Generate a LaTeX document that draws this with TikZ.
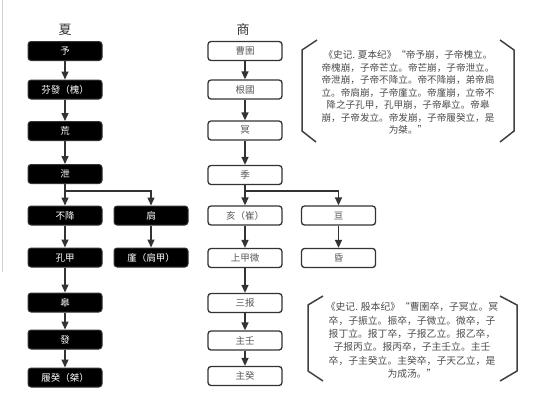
\documentclass[tikz,border=0pt]{standalone}
\usepackage{fontspec}
\newfontfamily\cjk{Noto Sans CJK SC}
\usetikzlibrary{arrows.meta}
\begin{document}
\begin{tikzpicture}[x=1pt,y=-1pt,
  xbox/.style={rectangle,rounded corners=3pt,fill=black,draw=black!80,line width=1pt,
    minimum width=74pt,minimum height=19pt,inner sep=0pt,text=white,
    font=\cjk\fontsize{9.5}{11}\selectfont},
  sbox/.style={rectangle,rounded corners=3pt,fill=white,draw=black!80,line width=1.3pt,
    minimum width=74pt,minimum height=19pt,inner sep=0pt,text=black!65,
    font=\cjk\fontsize{9.5}{11}\selectfont},
  arr/.style={draw=black!80,line width=1.4pt,-{Triangle[width=7pt,length=8pt]}},
  brk/.style={draw=black!75,line width=1.5pt},
  note/.style={text=black!70,align=center,inner sep=0pt},
  title/.style={text=black!80,font=\cjk\fontsize{13}{14}\selectfont,inner sep=0pt}]
\useasboundingbox (0,0) rectangle (534,400);
\fill[white] (0,0) rectangle (534,400);
\draw[black!18,line width=0.8pt] (2,0) -- (2,272);

% titles
\node[title] (tx) at (65,30) {夏};
\node[title] (ts) at (243,30) {商};

% Xia column
\node[xbox] (x1) at (65,51) {予};
\node[xbox] (x2) at (65,89.5) {芬發（槐）};
\node[xbox] (x3) at (65,131) {荒};
\node[xbox] (x4) at (65,174) {泄};
\node[xbox] (x5) at (65,215.5) {不降};
\node[xbox] (x6) at (151,215.5) {扃};
\node[xbox] (x7) at (65,257.5) {孔甲};
\node[xbox] (x8) at (151,257.5) {廑（扃甲）};
\node[xbox] (x9) at (65,302.5) {皋};
\node[xbox] (x10) at (65,339.5) {發};
\node[xbox] (x11) at (65,377.5) {履癸（桀）};

\draw[arr] (x1) -- (x2);
\draw[arr] (x2) -- (x3);
\draw[arr] (x3) -- (x4);
\draw[arr] (x4) -- (x5);
\draw[arr] (x4.south) -- ++(0,7) -| (x6.north);
\draw[arr] (x5) -- (x7);
\draw[arr] (x6) -- (x8);
\draw[arr] (x7) -- (x9);
\draw[arr] (x9) -- (x10);
\draw[arr] (x10) -- (x11);

% Shang column
\node[sbox] (s1) at (245,51) {曹圉};
\node[sbox] (s2) at (245,89.5) {根國};
\node[sbox] (s3) at (245,130.5) {冥};
\node[sbox] (s4) at (245,175) {季};
\node[sbox] (s5) at (245,215.5) {亥（崔）};
\node[sbox] (s6) at (338.5,215.5) {亘};
\node[sbox] (s7) at (245,258) {上甲微};
\node[sbox] (s8) at (338.5,258) {昏};
\node[sbox] (s9) at (245,303) {三报};
\node[sbox] (s10) at (245,340.5) {主壬};
\node[sbox] (s11) at (245,376) {主癸};

\draw[arr] (s1) -- (s2);
\draw[arr] (s2) -- (s3);
\draw[arr] (s3) -- (s4);
\draw[arr] (s4) -- (s5);
\draw[arr] (s4.south) -- ++(0,6) -| (s6.north);
\draw[arr] (s5) -- (s7);
\draw[arr] (s6) -- (s8);
\draw[arr] (s7) -- (s9);
\draw[arr] (s9) -- (s10);
\draw[arr] (s10) -- (s11);

% Xia note
\draw[brk] (317,40) -- (302,50) -- (302,131) -- (316,142);
\draw[brk] (500,40) -- (514,50) -- (514,131) -- (500,142);
\node[note,font=\cjk\fontsize{9.6}{12.5}\selectfont] (nx) at (408,92.5)
 {《史记. 夏本纪》“帝予崩，子帝槐立。\\
  帝槐崩，子帝芒立。帝芒崩，子帝泄立。\\
  帝泄崩，子帝不降立。帝不降崩，弟帝扃\\
  立。帝扃崩，子帝廑立。帝廑崩，立帝不\\
  降之子孔甲，孔甲崩，子帝皋立。帝皋\\
  崩，子帝发立。帝发崩，子帝履癸立，是\\
  为桀。”};

% Shang note
\draw[brk] (323,296) -- (308,305) -- (308,371) -- (323,381);
\draw[brk] (500,296) -- (517,305) -- (517,371) -- (500,381);
\node[note,font=\cjk\fontsize{9.8}{13.4}\selectfont] (ns) at (412,340.5)
 {《史记. 殷本纪》“曹圉卒，子冥立。冥\\
  卒，子振立。振卒，子微立。微卒，子\\
  报丁立。报丁卒，子报乙立。报乙卒，\\
  子报丙立。报丙卒，子主壬立。主壬\\
  卒，子主癸立。主癸卒，子天乙立，是\\
  为成汤。”};
\end{tikzpicture}
\end{document}
